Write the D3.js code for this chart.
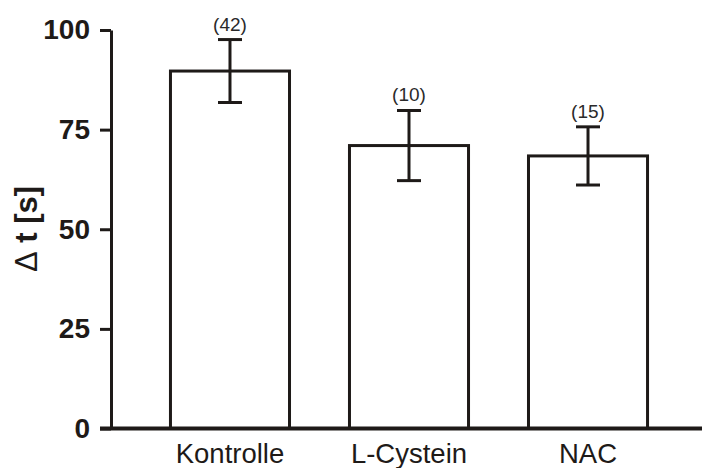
<!DOCTYPE html>
<html>
<head>
  <title>Delta t</title>
  <style>
    body { margin: 0; background: #fff; }
    svg text { font-family: Arial, "Liberation Sans", sans-serif; }
  </style>
</head>
<body>
  <div id="chart-container"></div>
  <script src="https://d3js.org/d3.v7.min.js"></script>
  <script>
    const categories = ['Kontrolle', 'L-Cystein', 'NAC'];
    const means = [89.7, 71.0, 68.4];
    const sems = [7.9, 8.8, 7.3];
    const nLabels = ['(42)', '(10)', '(15)'];
    const yTicks = [0, 25, 50, 75, 100];

    const width = 702;
    const height = 468;
    const ink = '#1e1a18';

    const svg = d3.select('#chart-container')
      .append('svg')
      .attr('width', width)
      .attr('height', height);

    const yScale = d3.scaleLinear().domain([0, 100]).range([428.5, 30]);
    const xScale = d3.scaleBand().domain(categories).range([110.5, 707.5]).padding(0.335);
    const cx = d => xScale(d) + xScale.bandwidth() / 2;

    // bars
    svg.selectAll('.bar')
      .data(categories)
      .enter()
      .append('rect')
      .attr('class', 'bar')
      .attr('x', d => xScale(d))
      .attr('y', (d, i) => yScale(means[i]))
      .attr('width', xScale.bandwidth())
      .attr('height', (d, i) => yScale(0) - yScale(means[i]))
      .attr('fill', '#fff')
      .attr('stroke', ink)
      .attr('stroke-width', 3);

    // error bars (mean +/- sem)
    const capW = 24;
    const err = svg.selectAll('.err')
      .data(categories)
      .enter()
      .append('g')
      .attr('class', 'err')
      .attr('stroke', ink)
      .attr('stroke-width', 3);

    err.append('line')
      .attr('x1', cx)
      .attr('x2', cx)
      .attr('y1', (d, i) => yScale(means[i] - sems[i]))
      .attr('y2', (d, i) => yScale(means[i] + sems[i]));
    err.append('line')
      .attr('x1', d => cx(d) - capW / 2)
      .attr('x2', d => cx(d) + capW / 2)
      .attr('y1', (d, i) => yScale(means[i] + sems[i]))
      .attr('y2', (d, i) => yScale(means[i] + sems[i]));
    err.append('line')
      .attr('x1', d => cx(d) - capW / 2)
      .attr('x2', d => cx(d) + capW / 2)
      .attr('y1', (d, i) => yScale(means[i] - sems[i]))
      .attr('y2', (d, i) => yScale(means[i] - sems[i]));

    // n labels
    svg.selectAll('.nlab')
      .data(categories)
      .enter()
      .append('text')
      .attr('class', 'nlab')
      .attr('text-anchor', 'middle')
      .attr('x', cx)
      .attr('y', (d, i) => yScale(means[i] + sems[i]) - 9)
      .attr('font-size', 19)
      .attr('fill', '#2a2a2a')
      .text((d, i) => nLabels[i]);

    // y axis
    const yAxis = d3.axisLeft(yScale)
      .tickValues(yTicks)
      .tickSize(11)
      .tickSizeOuter(0)
      .tickPadding(10);

    const yg = svg.append('g')
      .attr('transform', 'translate(111,0)')
      .call(yAxis);
    yg.select('.domain').attr('stroke', ink).attr('stroke-width', 3);
    yg.selectAll('.tick line').attr('stroke', ink).attr('stroke-width', 3);
    yg.selectAll('.tick text')
      .attr('fill', ink)
      .attr('font-size', 28)
      .attr('font-weight', 'bold')
      .attr('font-family', 'Arial, "Liberation Sans", sans-serif');

    // x axis baseline
    svg.append('line')
      .attr('x1', 100)
      .attr('x2', 702)
      .attr('y1', yScale(0))
      .attr('y2', yScale(0))
      .attr('stroke', ink)
      .attr('stroke-width', 4);

    // category labels
    svg.selectAll('.cat')
      .data(categories)
      .enter()
      .append('text')
      .attr('class', 'cat')
      .attr('text-anchor', 'middle')
      .attr('x', cx)
      .attr('y', 463)
      .attr('font-size', 27.5)
      .attr('fill', ink)
      .text(d => d);

    // y title
    const title = svg.append('text')
      .attr('text-anchor', 'middle')
      .attr('transform', 'translate(37,229) rotate(-90)')
      .attr('font-size', 31)
      .attr('font-weight', 'bold')
      .attr('fill', ink);
    title.append('tspan').attr('font-weight', 'normal').text('Δ');
    title.append('tspan').text(' t [s]');
  </script>
</body>
</html>
